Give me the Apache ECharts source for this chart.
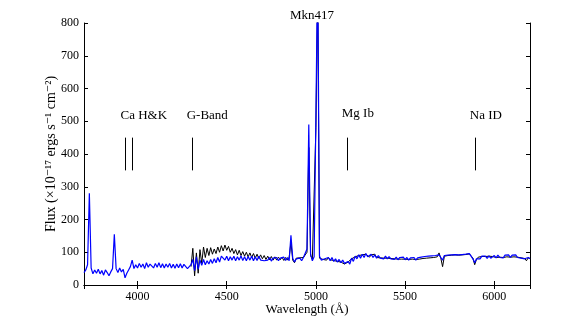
<!DOCTYPE html>
<html>
<head>
<meta charset="utf-8">
<script src="https://cdn.jsdelivr.net/npm/echarts@6/dist/echarts.min.js"></script>
<style>
  html, body { margin: 0; padding: 0; background: #fff; }
  #chart { width: 575px; height: 327px; }
</style>
</head>
<body>
<div id="chart"></div>
<script>
// spectrum sampled every 10 A
var waveStart = 3700;
var waveStep = 10;

// blue spectrum, 3700 - 6200
var blueFlux = [
  38, 46, 62, 280, 52, 34, 46, 36, 48, 34,
  44, 30, 46, 38, 28, 40, 50, 155, 50, 38,
  52, 40, 48, 22, 36, 46, 56, 76, 50, 62,
  52, 66, 54, 64, 50, 68, 54, 64, 70, 52,
  66, 54, 68, 53, 65, 52, 64, 54, 66, 52,
  63, 51, 64, 53, 65, 52, 63, 66, 50, 48,
  62, 78, 44, 86, 48, 76, 60, 78, 62, 74,
  64, 78, 66, 80, 68, 84, 70, 88, 94, 76,
  88, 74, 86, 76, 88, 74, 86, 76, 89, 75,
  86, 74, 87, 76, 88, 74, 86, 75, 88, 76,
  82, 74, 80, 76, 84, 73, 82, 76, 84, 74,
  82, 76, 85, 75, 84, 74, 152, 82, 70, 80,
  76, 82, 74, 84, 78, 110, 490, 95, 74, 86,
  520, 1000, 88, 76, 82, 80, 74, 84, 74, 84,
  72, 80, 70, 78, 68, 76, 66, 60, 72, 64,
  82, 72, 88, 80, 92, 82, 94, 84, 96, 86,
  82, 94, 84, 92, 82, 90, 82, 88, 80, 88,
  80, 87, 80, 86, 78, 85, 77, 84, 78, 85,
  77, 84, 76, 83, 78, 84, 76, 83, 78, 85,
  80, 87, 81, 88, 82, 89, 83, 90, 84, 92,
  84, 76, 90, 84, 91, 85, 92, 86, 93, 87,
  92, 86, 93, 87, 94, 88, 96, 90, 80, 68,
  80, 86, 80, 88, 82, 88, 81, 89, 82, 88,
  90, 83, 91, 84, 90, 83, 91, 85, 92, 84,
  91, 85, 92, 84, 90, 82, 88, 80, 76, 84,
  80
];

// black spectrum, starts at 4300
var blackStart = 4300;
var blackFlux = [
  56, 112, 28, 98, 36, 108, 66, 116, 84, 112,
  90, 114, 94, 110, 96, 116, 100, 120, 104, 122,
  106, 118, 100, 112, 96, 108, 92, 106, 90, 102,
  88, 100, 86, 98, 84, 96, 82, 94, 81, 92,
  80, 90, 78, 88, 77, 87, 76, 86, 76, 85,
  77, 85, 75, 84, 76, 85, 130, 76, 68, 82,
  76, 83, 77, 84, 80, 100, 420, 90, 78, 84,
  480, 900, 82, 84, 78, 84, 76, 84, 77, 82,
  75, 80, 72, 77, 70, 74, 64, 58, 70, 66,
  80, 74, 86, 82, 90, 84, 92, 86, 94, 88,
  85, 92, 86, 94, 84, 89, 83, 87, 82, 87,
  82, 86, 81, 85, 80, 84, 79, 83, 79, 84,
  79, 83, 78, 82, 79, 83, 78, 82, 79, 84,
  81, 86, 82, 87, 83, 88, 84, 89, 86, 98,
  82, 56, 88, 85, 90, 86, 91, 87, 92, 88,
  91, 87, 92, 88, 93, 89, 95, 99, 82, 62,
  78, 85, 81, 87, 83, 87, 82, 88, 83, 87,
  89, 84, 90, 85, 89, 84, 90, 86, 91, 85,
  90, 86, 91, 85, 89, 83, 87, 81, 74, 83,
  81
];

// absorption features
var lineNames = ["Ca H&K", "G-Band", "Mg Ib", "Na ID"];
var lineLabelX = [4035, 4391, 5235, 5953];
var lineLabelY = [517, 517, 523, 517];
var featureWaves = [3934, 3968, 4304, 5175, 5893];
var featureLow = 350;
var featureHigh = 450;

var serif = "'Liberation Serif', 'DejaVu Serif', serif";

var blueData = blueFlux.map(function (v, i) { return [waveStart + waveStep * i, v]; });
var blackData = blackFlux.map(function (v, i) { return [blackStart + waveStep * i, v]; });
var labelData = lineNames.map(function (n, i) { return { name: n, value: [lineLabelX[i], lineLabelY[i]] }; });
var featureLines = featureWaves.map(function (w) {
  return [{ coord: [w, featureLow] }, { coord: [w, featureHigh] }];
});

var myChart = echarts.init(document.getElementById("chart"), null, { renderer: "canvas" });

var xBase = {
  type: "value",
  min: 3700,
  max: 6200,
  splitNumber: 5,
  axisLine: { lineStyle: { color: "#000", width: 1 } },
  axisTick: { inside: true, length: 4, lineStyle: { color: "#000" } },
  splitLine: { show: false },
};
var yBase = {
  type: "value",
  min: 0,
  max: 800,
  interval: 100,
  axisLine: { show: true, lineStyle: { color: "#000", width: 1 } },
  axisTick: { show: true, inside: true, length: 4, lineStyle: { color: "#000" } },
  splitLine: { show: false },
};

var option = {
  animation: false,
  backgroundColor: "#fff",
  title: {
    text: "Mkn417",
    left: 307,
    textAlign: "center",
    top: 4,
    textStyle: { fontFamily: serif, fontSize: 13, fontWeight: "normal", color: "#000" },
  },
  grid: { left: 84, right: 45, top: 23, bottom: 42 },
  xAxis: [
    Object.assign({}, xBase, {
      position: "bottom",
      name: "Wavelength (Å)",
      nameLocation: "middle",
      nameGap: 18,
      nameMoveOverlap: false,
      nameTextStyle: { fontFamily: serif, fontSize: 13, color: "#000" },
      axisLabel: {
        showMinLabel: false,
        showMaxLabel: false,
        margin: 6,
        fontFamily: serif,
        fontSize: 12,
        color: "#000",
        formatter: function (v) { return String(v); },
      },
    }),
    Object.assign({}, xBase, { position: "top", axisLabel: { show: false } }),
  ],
  yAxis: [
    Object.assign({}, yBase, {
      position: "left",
      name: "Flux (×10⁻¹⁷ ergs s⁻¹ cm⁻²)",
      nameLocation: "middle",
      nameGap: 26,
      nameMoveOverlap: false,
      nameTextStyle: { fontFamily: serif, fontSize: 14, color: "#000" },
      axisLabel: {
        margin: 5,
        fontFamily: serif,
        fontSize: 12,
        color: "#000",
        formatter: function (v) { return String(v); },
      },
    }),
    Object.assign({}, yBase, { position: "right", axisLabel: { show: false } }),
  ],
  series: [
    {
      name: "black",
      type: "line",
      data: blackData,
      showSymbol: false,
      lineStyle: { color: "#000", width: 1 },
      z: 2,
    },
    {
      name: "blue",
      type: "line",
      data: blueData,
      showSymbol: false,
      lineStyle: { color: "#0000ff", width: 1.2 },
      z: 3,
      markLine: {
        silent: true,
        symbol: "none",
        label: { show: false },
        lineStyle: { color: "#000", width: 1, type: "solid" },
        data: featureLines,
      },
    },
    {
      name: "labels",
      type: "scatter",
      symbolSize: 0,
      itemStyle: { opacity: 1 },
      data: labelData,
      label: {
        show: true,
        position: "inside",
        formatter: "{b}",
        fontFamily: serif,
        fontSize: 13,
        color: "#000",
        opacity: 1,
      },
      z: 4,
    },
  ],
};

myChart.setOption(option);
</script>
</body>
</html>
